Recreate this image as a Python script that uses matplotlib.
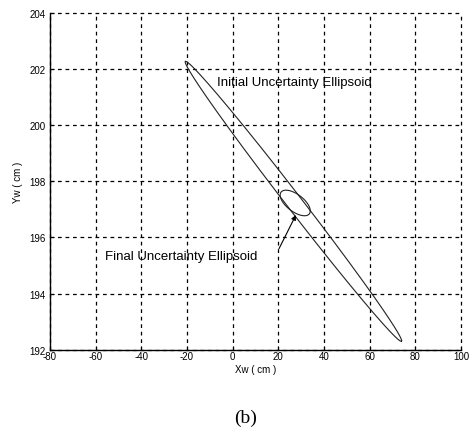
import matplotlib
matplotlib.use("Agg")
import matplotlib.pyplot as plt
import numpy as np

# initial ellipsoid: centre, major half-axis vector, minor half-axis vector
init_center = [26.6, 197.29]
init_major = [47.4, -4.97]
init_minor = [0.0, 0.45]

# final ellipsoid
final_center = [27.4, 197.23]
final_major = [6.6, -0.28]
final_minor = [0.0, 0.36]

xticks = [-80, -60, -40, -20, 0, 20, 40, 60, 80, 100]
yticks = [192, 194, 196, 198, 200, 202, 204]

plt.rcParams['font.family'] = ['Liberation Sans', 'DejaVu Sans']
plt.rcParams['axes.unicode_minus'] = False

fig = plt.figure(figsize=(4.73, 4.39), dpi=100)
ax = fig.add_axes([0.1057, 0.2011, 0.8689, 0.7670])

t = np.linspace(0, 2 * np.pi, 400)
for c, a, b in [(init_center, init_major, init_minor),
                (final_center, final_major, final_minor)]:
    x = c[0] + a[0] * np.cos(t) + b[0] * np.sin(t)
    y = c[1] + a[1] * np.cos(t) + b[1] * np.sin(t)
    ax.plot(x, y, color='#222222', lw=0.8)

ax.set_xlim(-80, 100)
ax.set_ylim(192, 204)
ax.set_xticks(xticks)
ax.set_yticks(yticks)
ax.tick_params(direction='in', length=3, labelsize=7)
ax.tick_params(axis='x', pad=1)
ax.tick_params(axis='y', pad=3)
ax.grid(True, color='black', linestyle=(0, (3, 3)), linewidth=0.9)
for gl in ax.get_xgridlines() + ax.get_ygridlines():
    gl.set_clip_on(False)
ax.spines['top'].set_visible(False)
ax.spines['right'].set_visible(False)
ax.spines['left'].set_linewidth(1.0)
ax.spines['bottom'].set_linewidth(1.0)

ax.set_xlabel('Xw ( cm )', fontsize=7, labelpad=2)
ax.set_ylabel('Yw ( cm )', fontsize=7, labelpad=5)

ax.text(-6.7, 201.53, 'Initial Uncertainty Ellipsoid', fontsize=9.5,
        va='center', ha='left')
ax.text(-55.9, 195.35, 'Final Uncertainty Ellipsoid', fontsize=9.5,
        va='center', ha='left')
ax.annotate('', xy=(27.7, 196.8), xytext=(20.3, 195.6),
            arrowprops=dict(arrowstyle='-|>', color='black', lw=0.8,
                            mutation_scale=7, shrinkA=0, shrinkB=0))

fig.text(0.52, 0.027, '(b)', fontsize=14, family='Liberation Serif',
         ha='center', va='bottom')

fig.savefig('out.png', dpi=100)
